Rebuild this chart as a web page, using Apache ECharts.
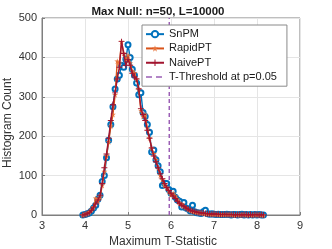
<!DOCTYPE html>
<html><head><meta charset="utf-8">
<script src="https://cdn.jsdelivr.net/npm/echarts@6/dist/echarts.min.js"></script>
<style>html,body{margin:0;padding:0;background:#fff}#c{width:332px;height:249px}</style>
</head><body><div id="c"></div>
<script>
const xVals = [3.95,4.00,4.05,4.10,4.15,4.20,4.25,4.30,4.35,4.40,
 4.45,4.50,4.55,4.60,4.65,4.70,4.75,4.80,4.85,4.90,
 4.95,5.00,5.05,5.10,5.15,5.20,5.25,5.30,5.35,5.40,
 5.45,5.50,5.55,5.60,5.65,5.70,5.75,5.80,5.85,5.90,
 5.95,6.00,6.05,6.10,6.15,6.20,6.25,6.30,6.35,6.40,
 6.45,6.50,6.55,6.60,6.65,6.70,6.75,6.80,6.85,6.90,
 6.95,7.00,7.05,7.10,7.15,7.20,7.25,7.30,7.35,7.40,
 7.45,7.50,7.55,7.60,7.65,7.70,7.75,7.80,7.85,7.90,
 7.95,8.00,8.05,8.10,8.15];
const snpm = [0,1,3,5,10,18,25,40,50,85,
 100,145,190,230,275,320,345,355,380,375,
 395,432,400,370,355,335,305,310,260,250,
 230,210,160,165,140,125,110,75,80,80,
 65,55,60,45,38,35,20,32,18,15,
 10,25,8,6,5,4,8,12,3,2,
 3,2,1,2,1,1,1,2,1,0,
 1,1,0,1,2,0,1,0,1,0,
 1,0,1,0,0];
const rapidpt = [0,2,4,8,14,20,42,35,45,75,
 110,150,185,225,255,305,390,385,440,410,
 395,405,385,365,360,345,320,265,250,255,
 220,195,170,155,140,120,100,90,75,70,
 60,50,55,48,40,30,28,22,18,14,
 12,10,8,7,6,5,4,4,3,3,
 2,2,2,1,1,2,1,1,1,1,
 0,1,1,0,1,1,0,1,1,0,
 1,0,1,0,0];
const naivept = [0,1,3,6,12,20,28,38,50,80,
 120,155,195,240,280,310,345,375,440,410,
 380,395,380,360,350,345,320,270,255,240,
 215,195,170,150,135,120,105,92,80,70,
 62,55,48,42,35,30,25,22,18,15,
 12,10,9,7,6,5,5,4,3,3,
 2,3,2,2,1,1,2,1,1,1,
 1,0,1,1,0,1,1,0,1,0,
 1,1,0,1,0];
const threshold = 5.96;
const yRange = [0, 500];

const pair = arr => xVals.map((x,i)=>[x,arr[i]]);
const font = 'Liberation Sans, Arial, Helvetica, sans-serif';
const star = 'path://M5,0L6,3.6L10,3.6L6.8,5.8L8,10L5,7.4L2,10L3.2,5.8L0,3.6L4,3.6Z';
const plus = 'path://M4.2,0H5.8V4.2H10V5.8H5.8V10H4.2V5.8H0V4.2H4.2Z';
const dashIcon = 'path://M0,3.3H6V4.7H0Z M10,3.3H16V4.7H10Z M8,0H8.01V0.01H8Z M8,8H8.01V7.99H8Z M18,4H18.01V4.01H18Z';

const chart = echarts.init(document.getElementById('c'), null, {renderer:'canvas'});
chart.setOption({
  animation:false,
  backgroundColor:'#fff',
  textStyle:{fontFamily:font},
  title:{text:'Max Null: n=50, L=10000', left:153, top:1, textAlign:'center',
    textStyle:{fontSize:11.5, fontWeight:'bold', color:'#1a1a1a', fontFamily:font}},
  grid:{left:42, right:32, top:18, bottom:34, containLabel:false, outerBoundsMode:'none',
    show:true, borderColor:'#7f7f7f', borderWidth:1},
  legend:{orient:'vertical', left:142, top:25, itemWidth:18, itemHeight:8, itemGap:2,
    padding:[3,10,3,3], backgroundColor:'#fff', borderColor:'#8a8a8a', borderWidth:1,
    textStyle:{fontSize:11, color:'#1a1a1a', fontFamily:font, lineHeight:12.3},
    data:['SnPM','RapidPT','NaivePT',{name:'T-Threshold at p=0.05', icon:dashIcon}]},
  graphic:[{type:'text', left:2, top:78, z:10,
    style:{text:'Histogram Count', fontSize:12, fill:'#333', fontFamily:font}, rotation:Math.PI/2,
    originX:0, originY:0}],
  xAxis:{type:'value', min:3, max:9, interval:1,
    name:'Maximum T-Statistic', nameLocation:'middle', nameGap:17,
    nameTextStyle:{fontSize:12, color:'#333', fontFamily:font, padding:[0,16,0,0]},
    axisLine:{show:true, lineStyle:{color:'#7f7f7f'}},
    axisTick:{inside:true, length:3, lineStyle:{color:'#7f7f7f'}},
    axisLabel:{fontSize:11, color:'#333', margin:5, fontFamily:font},
    splitLine:{show:true, lineStyle:{color:'#e5e5e5'}}},
  yAxis:{type:'value', min:yRange[0], max:yRange[1], interval:100,
    axisLine:{show:true, lineStyle:{color:'#7f7f7f'}},
    axisTick:{inside:true, length:3, lineStyle:{color:'#7f7f7f'}},
    axisLabel:{fontSize:11, color:'#333', margin:5, fontFamily:font},
    splitLine:{show:true, lineStyle:{color:'#e5e5e5'}}},
  series:[
    {name:'SnPM', type:'line', data:pair(snpm), symbol:'emptyCircle', symbolSize:5,
      lineStyle:{color:'#0072BD', width:1.4}, itemStyle:{color:'#0072BD', borderWidth:1.1}, z:2},
    {name:'RapidPT', type:'line', data:pair(rapidpt), symbol:star, symbolSize:6,
      lineStyle:{color:'#D95319', width:1.4}, itemStyle:{color:'#E8743B'}, z:3},
    {name:'NaivePT', type:'line', data:pair(naivept), symbol:plus, symbolSize:6,
      lineStyle:{color:'#A2142F', width:1.4}, itemStyle:{color:'#A2142F'}, z:4},
    {name:'T-Threshold at p=0.05', type:'line', data:[[threshold,yRange[0]],[threshold,yRange[1]]],
      symbol:'none', lineStyle:{color:'#9B5FB5', width:1.5, type:[4,3]}, itemStyle:{color:'#9B5FB5'}, z:1}
  ]
});
</script></body></html>
